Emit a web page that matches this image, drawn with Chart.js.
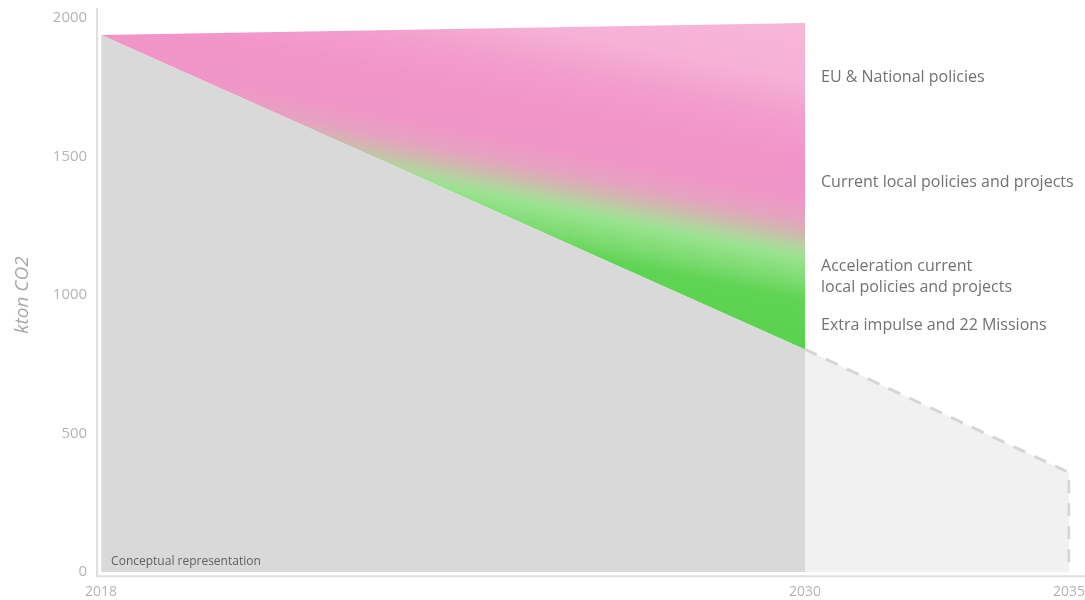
<!DOCTYPE html>
<html>
<head>
<meta charset="utf-8">
<script src="https://cdn.jsdelivr.net/npm/chart.js@4.4.0/dist/chart.umd.min.js"></script>
<style>
  body { margin: 0; background: #fff; }
  #wrap { width: 1085px; height: 600px; }
</style>
</head>
<body>
<div id="wrap"><canvas id="co2Chart" width="1085" height="600"></canvas></div>
<script>
// tick labels on the x axis (blank slots keep the 2018-2030 / 2030-2035 spacing of the original)
const xLabels = ['2018', '', '', '', '', '', '', '', '2030', '', '', '2035'];

// emissions path until 2030 (grey area)
const pathYears = ['2018', '2030'];
const baselineValues = [1939, 804];
// top of the policy wedge
const topValues = [1939, 1982];

// outlook after 2030 (dashed)
const futureYears = ['2030', '2035', '2035'];
const futureValues = [804, 360, 0];

// wedge captions, next to 2030
const bandLabels = [
  ['EU & National policies'],
  ['Current local policies and projects'],
  ['Acceleration current', 'local policies and projects'],
  ['Extra impulse and 22 Missions']
];
const bandLabelValues = [1787, 1407, 1065, 890];

const fontFamily = "'Open Sans', 'Noto Sans', sans-serif";

function pts(xs, ys) {
  return xs.map((x, i) => ({ x: x, y: ys[i] }));
}

// pink -> green gradient, slanted like the original
function wedgeGradient(context) {
  const chart = context.chart;
  const area = chart.chartArea;
  if (!area) return '#f294c8';
  const x0 = area.left - 101, y0 = area.top - 168;
  const g = chart.ctx.createLinearGradient(x0, y0, x0 - 67, y0 + 336);
  g.addColorStop(0.00, '#f7b7d8');
  g.addColorStop(0.20, '#f6b1d6');
  g.addColorStop(0.31, '#f39ecd');
  g.addColorStop(0.43, '#f294c8');
  g.addColorStop(0.54, '#f096c7');
  g.addColorStop(0.60, '#e6a2c0');
  g.addColorStop(0.64, '#d2b6b0');
  g.addColorStop(0.68, '#b4d4a0');
  g.addColorStop(0.71, '#9ae390');
  g.addColorStop(0.77, '#80dc74');
  g.addColorStop(0.83, '#60d454');
  g.addColorStop(1.00, '#58d24c');
  return g;
}

const extras = {
  id: 'extras',
  beforeDatasetsDraw(chart) {
    const { ctx, chartArea } = chart;
    ctx.save();
    ctx.strokeStyle = '#dedede';
    ctx.lineWidth = 2;
    ctx.beginPath();
    ctx.moveTo(chartArea.left - 4, chartArea.top - 10);
    ctx.lineTo(chartArea.left - 4, chartArea.bottom + 4);
    ctx.lineTo(chart.width, chartArea.bottom + 4);
    ctx.stroke();
    ctx.restore();
  },
  afterDatasetsDraw(chart) {
    const { ctx, chartArea, scales } = chart;
    ctx.save();
    ctx.fillStyle = '#5f5f5f';
    ctx.font = '12px ' + fontFamily;
    ctx.textBaseline = 'alphabetic';
    ctx.fillText('Conceptual representation', chartArea.left + 10, chartArea.bottom - 7);

    const x = scales.x.getPixelForValue(xLabels.indexOf('2030')) + 16;
    ctx.fillStyle = '#727272';
    ctx.font = '16px ' + fontFamily;
    ctx.textBaseline = 'middle';
    bandLabels.forEach((lines, i) => {
      const y = scales.y.getPixelForValue(bandLabelValues[i]);
      lines.forEach((line, j) => {
        ctx.fillText(line, x, y + (j - (lines.length - 1) / 2) * 21);
      });
    });
    ctx.restore();
  }
};

new Chart(document.getElementById('co2Chart').getContext('2d'), {
  type: 'line',
  data: {
    labels: xLabels,
    datasets: [
      {
        label: 'Path',
        data: pts(pathYears, baselineValues),
        fill: 'origin',
        backgroundColor: '#d9d9d9',
        borderWidth: 0,
        pointRadius: 0
      },
      {
        label: 'Policies',
        data: pts(pathYears, topValues),
        fill: '-1',
        backgroundColor: wedgeGradient,
        borderWidth: 0,
        pointRadius: 0
      },
      {
        label: 'Outlook',
        data: pts(futureYears, futureValues),
        fill: 'origin',
        backgroundColor: '#f1f1f1',
        borderColor: '#d6d6d6',
        borderWidth: 3,
        borderDash: [13, 10],
        pointRadius: 0
      }
    ]
  },
  options: {
    responsive: false,
    maintainAspectRatio: false,
    animation: false,
    layout: { padding: { top: 18, left: 0, right: 0, bottom: 0 } },
    plugins: {
      legend: { display: false },
      tooltip: { enabled: false }
    },
    scales: {
      x: {
        type: 'category',
        offset: false,
        grid: { display: false, drawTicks: true, tickLength: 11 },
        border: { display: false },
        ticks: {
          autoSkip: false,
          maxRotation: 0,
          color: '#b5b5b5',
          padding: 0,
          font: { family: fontFamily, size: 14 }
        }
      },
      y: {
        min: 0,
        max: 2000,
        grid: { display: false, drawTicks: true, tickLength: 14 },
        border: { display: false },
        ticks: {
          stepSize: 500,
          color: '#b5b5b5',
          padding: 0,
          font: { family: fontFamily, size: 15 },
          callback: (v) => String(v)
        },
        title: {
          display: true,
          text: 'kton CO2',
          color: '#a8a8a8',
          padding: { top: 11, bottom: 19 },
          font: { family: fontFamily, size: 19, style: 'italic' }
        }
      }
    }
  },
  plugins: [extras]
});
</script>
</body>
</html>
